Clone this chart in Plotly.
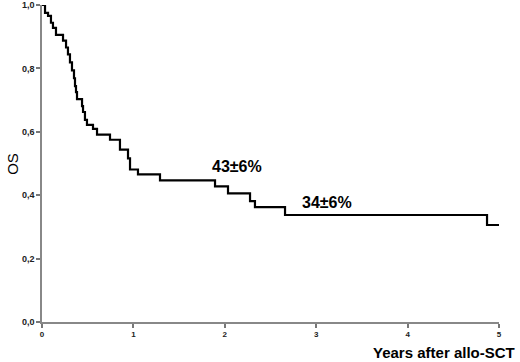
import plotly.graph_objects as go

# Kaplan-Meier step data (time in years, survival after the step)
times = [0, 0.033, 0.066, 0.098, 0.120, 0.153, 0.230, 0.263, 0.284, 0.306, 0.328,
         0.350, 0.361, 0.372, 0.383, 0.438, 0.449, 0.470, 0.492, 0.558, 0.602,
         0.744, 0.853, 0.941, 0.963, 1.050, 1.291, 1.893, 2.035, 2.276, 2.330,
         2.659, 4.869, 5.0]
surv = [1.0, 0.975, 0.966, 0.944, 0.928, 0.906, 0.8875, 0.866, 0.844, 0.819, 0.794,
        0.769, 0.744, 0.725, 0.703, 0.681, 0.6625, 0.6375, 0.622, 0.609, 0.591,
        0.575, 0.544, 0.516, 0.481, 0.466, 0.447, 0.428, 0.406, 0.381, 0.3625,
        0.3375, 0.306, 0.306]

x_ticks = [0, 1, 2, 3, 4, 5]
y_ticks = [0.0, 0.2, 0.4, 0.6, 0.8, 1.0]
y_tick_labels = ["0,0", "0,2", "0,4", "0,6", "0,8", "1,0"]

annot_text = ["43±6%", "34±6%"]
annot_x = [2.13, 3.12]
annot_y = [0.49, 0.377]

fig = go.Figure()
fig.add_trace(go.Scatter(x=times, y=surv, mode="lines", line_shape="hv",
                         line=dict(color="black", width=2.2), cliponaxis=False,
                         showlegend=False, hoverinfo="skip"))

for t, ax, ay in zip(annot_text, annot_x, annot_y):
    fig.add_annotation(x=ax, y=ay, text=t, showarrow=False,
                       font=dict(family="Liberation Sans, Arial", size=16, color="black", weight="bold"))

fig.add_annotation(xref="paper", yref="paper", x=1.04, y=-0.063, xanchor="right", yanchor="top",
                   text="Years after allo-SCT", showarrow=False,
                   font=dict(family="Liberation Sans, Arial", size=15, color="black", weight="bold"))

fig.add_annotation(xref="paper", yref="paper", x=-0.065, y=0.5, xanchor="center", yanchor="middle",
                   text="OS", textangle=-90, showarrow=False,
                   font=dict(family="Liberation Sans, Arial", size=15, color="black"))

fig.update_layout(
    width=520, height=362,
    margin=dict(l=42, r=21, t=5, b=40, autoexpand=False),
    paper_bgcolor="white", plot_bgcolor="white",
    font=dict(family="Liberation Sans, Arial", color="#222"),
    xaxis=dict(range=[0, 5], tickvals=x_ticks, ticks="outside", ticklen=4, tickcolor="#777",
               tickwidth=1.5, showline=True, linecolor="#888", linewidth=1.5, showgrid=False,
               zeroline=False, automargin=False, ticklabeloverflow="allow",
               tickfont=dict(size=8, color="#222", weight="bold")),
    yaxis=dict(range=[0, 1], tickvals=y_ticks, ticktext=y_tick_labels, ticks="outside",
               ticklen=4, tickcolor="#777", tickwidth=1.5, showline=True, linecolor="#888",
               linewidth=1.5, showgrid=False, zeroline=False, automargin=False,
               ticklabeloverflow="allow",
               tickfont=dict(size=9, color="#222", weight="bold")),
)

fig.write_html("out.html", config={"displayModeBar": False},
               post_script="document.body.style.margin='0';document.body.style.overflow='hidden';")
